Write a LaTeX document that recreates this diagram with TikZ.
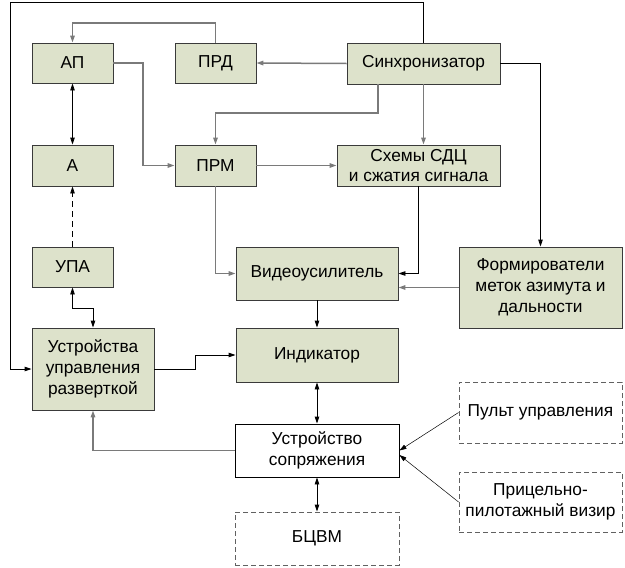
\documentclass[tikz,border=0pt]{standalone}
\usepackage{fontspec}
\setmainfont{Liberation Sans}
\usetikzlibrary{arrows.meta,calc}
\definecolor{boxfill}{HTML}{DDE2CB}
\definecolor{boxline}{HTML}{3A3A3A}
\definecolor{gline}{HTML}{7A7A7A}
\begin{document}
\begin{tikzpicture}[x=1pt,y=-1pt,
  every node/.style={font=\fontsize{17.3}{20.8}\selectfont, align=center, inner sep=0pt},
  blk/.style={draw=boxline, fill=boxfill, line width=0.9pt},
  wblk/.style={draw=black, fill=white, line width=0.9pt},
  dblk/.style={draw=boxline!80, line width=0.9pt, dash pattern=on 5pt off 3pt},
  arr/.style={-{Triangle[length=7pt,width=4.5pt]}},
  darr/.style={{Triangle[length=7pt,width=4.5pt]}-{Triangle[length=7pt,width=4.5pt]}},
  bl/.style={draw=black, line width=0.9pt},
  gl/.style={draw=gline, line width=1.5pt},
  thin/.style={draw=black, line width=0.5pt}]
\useasboundingbox (0,0) rectangle (625,568);
% nodes
\node[blk, minimum width=81, minimum height=40] (ap) at (72.5,63) {АП};
\node[blk, minimum width=81, minimum height=40] (prd) at (215.5,63) {ПРД};
\node[blk, minimum width=153, minimum height=41] (sync) at (423.5,63.5) {Синхронизатор};
\node[blk, minimum width=81, minimum height=41] (a) at (72.5,165.5) {А};
\node[blk, minimum width=81, minimum height=41] (prm) at (215.5,165.5) {ПРМ};
\node[blk, minimum width=163, minimum height=41] (sdc) at (418.5,165.5) {Схемы СДЦ\\и сжатия сигнала};
\node[blk, minimum width=81, minimum height=40] (upa) at (72.5,267) {УПА};
\node[blk, minimum width=122, minimum height=82] (uu) at (93,369) {Устройства\\управления\\разверткой};
\node[blk, minimum width=162, minimum height=53] (video) at (317,273.5) {Видеоусилитель};
\node[blk, minimum width=162, minimum height=54] (ind) at (317,355) {Индикатор};
\node[blk, minimum width=163, minimum height=81] (form) at (540.5,287.5) {Формирователи\\меток азимута и\\дальности};
\node[wblk, minimum width=164, minimum height=53] (sopr) at (317,450.5) {Устройство\\сопряжения};
\node[dblk, minimum width=164, minimum height=53] (bcvm) at (317,538.5) {БЦВМ};
\node[dblk, minimum width=163, minimum height=61] (pult) at (540.5,412.5) {Пульт управления};
\node[dblk, minimum width=163, minimum height=60] (pric) at (540.5,502) {Прицельно-\\пилотажный визир};
\coordinate (loopc) at (10,2);
% connectors
\draw[gl, arr] (sync.west) -- (prd.east);
\draw[gl, arr] (prd.north) -- (prd.north |- 0,23) -| (ap.north);
\draw[bl, darr] (ap.south) -- (a.north);
\draw[bl, arr, dashed, dash pattern=on 6pt off 4pt] (upa.north) -- (a.south);
\draw[bl, darr] (upa.south) -- (upa.south |- 0,308) -| (uu.north);
\draw[gl, arr] (ap.east) -- (ap.east -| 143,0) |- (prm.west);
\draw[gl, arr] (sync.south -| 378,0) -- (378,113) -| (prm.north);
\draw[gl, arr] (sync.south) -- (sync.south |- sdc.north);
\draw[gl, arr] (prm.east) -- (sdc.west);
\draw[bl, arr] (sync.east) -| (form.north);
\draw[gl, arr] (prm.south) |- (video.west);
\draw[bl, arr] (sdc.south) |- (video.east);
\draw[gl, arr] (form.west) -- (form.west -| video.east);
\draw[bl, arr] (video.south) -- (ind.north);
\draw[bl, arr] (uu.east) -- (uu.east -| 195,0) |- (ind.west);
\draw[bl, darr] (ind.south) -- (sopr.north);
\draw[bl, darr] (sopr.south) -- (bcvm.north);
\draw[gl, arr] (sopr.west) -| (uu.south);
\draw[thin, arr] (pult.west) -- (sopr.east);
\draw[thin, arr] (pric.west) -- (sopr.east |- 0,455);
\draw[bl, arr] (sync.north) |- (loopc) |- (uu.west);
\end{tikzpicture}
\end{document}
